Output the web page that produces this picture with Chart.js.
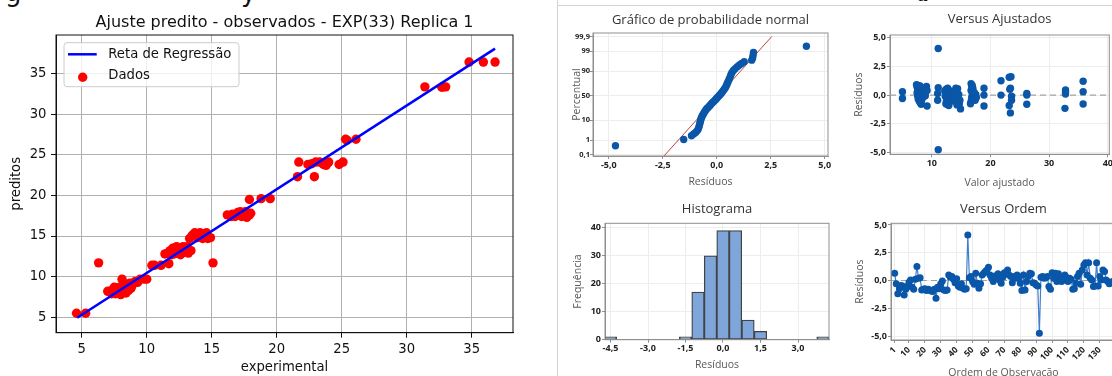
<!DOCTYPE html>
<html>
<head>
<meta charset="utf-8">
<script src="https://cdn.jsdelivr.net/npm/chart.js@4.4.1/dist/chart.umd.min.js"></script>
<style>
  html, body { margin: 0; padding: 0; background: #fff; }
  #page { position: relative; width: 1112px; height: 376px; overflow: hidden; background: #fff; }
  #page canvas { position: absolute; }
  .rule { position: absolute; background: #d4d4d4; }
  .frag { position: absolute; font-family: "DejaVu Sans"; font-size: 26px; line-height: 26px; color: #111; white-space: nowrap; }
</style>
</head>
<body>
<div id="page">
  <!-- restos do texto cortado em cima -->
  <div class="frag" style="left:5px;top:-21px">g</div>
  <div class="frag" style="left:241px;top:-21px">y</div>
  <div class="frag" style="left:760px;top:-22px;font-size:22px">,</div>
  <div class="frag" style="left:917px;top:-19px;font-size:20px;font-family:'DejaVu Serif';font-style:italic">a</div>
  <div class="rule" style="left:557px;top:0;width:1px;height:376px"></div>
  <div class="rule" style="left:557px;top:5px;width:555px;height:1px"></div>
  <canvas id="ajuste" width="556" height="376" style="left:0;top:0"></canvas>
  <canvas id="probNormal" width="290" height="185" style="left:557px;top:5px"></canvas>
  <canvas id="versusAjust" width="300" height="185" style="left:833px;top:5px"></canvas>
  <canvas id="histograma" width="290" height="186" style="left:557px;top:190px"></canvas>
  <canvas id="versusOrdem" width="300" height="196" style="left:833px;top:190px"></canvas>
</div>
<script>
// ---- grafico da esquerda: experimental x preditos ----
const expX = [4.6, 5.3, 6.3,
  7.0, 7.2, 7.3, 7.4, 7.5, 7.6, 7.8, 7.9, 8.0, 8.1, 8.1, 8.2, 8.3, 8.4, 8.5, 8.6, 8.7, 8.8, 8.9, 9.1, 9.3, 9.5, 9.8, 10.0,
  10.4, 10.6, 11.1, 11.7,
  11.4, 11.6, 11.8, 11.9, 12.0, 12.1, 12.2, 12.3, 12.5, 12.6, 12.8, 12.9, 13.0, 13.1, 13.2, 13.4,
  13.3, 13.5, 13.7, 13.8, 13.9, 14.1, 14.3, 14.4, 14.6, 14.7, 14.9,
  15.1,
  16.2, 16.4, 16.5, 16.6, 16.8, 17.0, 17.2, 17.3, 17.4, 17.5, 17.6, 17.7, 17.9, 18.0,
  17.9, 18.8, 19.5,
  21.6, 21.7, 22.4, 22.7, 22.9, 23.0, 23.3, 23.6, 23.8, 23.9, 24.0, 24.8, 25.1,
  25.3, 25.4, 26.1,
  31.4, 32.7, 32.8, 33.0,
  34.8, 35.9, 36.8];
const predY = [5.5, 5.5, 11.7,
  8.2, 8.1, 7.9, 8.4, 8.7, 7.9, 8.3, 8.7, 7.8, 8.2, 9.7, 8.9, 9.1, 8.0, 8.5, 8.3, 9.2, 8.6, 9.0, 9.4, 9.3, 9.7, 9.7, 9.7,
  11.4, 11.4, 11.4, 11.6,
  12.8, 12.9, 13.2, 12.7, 13.5, 12.8, 13.0, 13.7, 13.3, 12.7, 13.7, 13.0, 13.4, 13.7, 12.9, 13.2,
  14.7, 15.1, 15.4, 15.0, 14.8, 15.4, 14.7, 15.3, 15.4, 14.7, 14.8,
  11.7,
  17.6, 17.5, 17.4, 17.7, 17.4, 17.9, 18.0, 17.4, 17.8, 17.6, 18.0, 17.3, 17.6, 17.8,
  19.5, 19.6, 19.6,
  22.3, 24.1, 23.8, 23.9, 22.3, 24.1, 24.1, 23.8, 23.7, 24.0, 24.1, 23.8, 24.1,
  26.9, 26.8, 26.9,
  33.35, 33.3, 33.35, 33.35,
  36.4, 36.4, 36.4];
const regX = [4.65, 36.8];
const regY = [4.95, 38.05];
const fitTicks = [5, 10, 15, 20, 25, 30, 35];

// ---- grafico de probabilidade normal ----
const probRes = [-4.69, -1.53, -1.17, -1.07, -0.98, -0.91, -0.86, -0.83, -0.80, -0.78, -0.76, -0.74, -0.72, -0.69,
  -0.66, -0.62, -0.58, -0.54, -0.50, -0.45, -0.40, -0.35, -0.30, -0.25, -0.19, -0.13, -0.07, -0.02, 0.03, 0.08,
  0.13, 0.18, 0.23, 0.28, 0.33, 0.38, 0.42, 0.46, 0.49, 0.53, 0.57, 0.61, 0.65, 0.70, 0.77, 0.85, 0.95, 1.05,
  1.15, 1.27, 1.62, 1.66, 1.68, 1.70, 4.15];
const probPct = [0.45, 1.1, 1.8, 2.3, 2.7, 3.3, 4.0, 5.0, 6.2, 7.5, 9.0, 10.5, 12, 13.5,
  15, 17, 19, 21, 23, 25, 27, 29, 31, 33.5, 36, 38.5, 41, 43.5, 46, 48.5,
  51, 53.5, 56, 59, 62, 65, 68, 71, 74, 77, 80, 83, 86, 88.5, 90.5, 92, 93.5, 94.5,
  95.3, 96.2, 96.8, 97.5, 98.2, 98.8, 99.5];
const probLineRes = [-2.45, 2.55];
const probLinePct = [0.08, 99.9];
const pctTicks = [0.1, 1, 10, 50, 90, 99, 99.9];
const pctLabels = ['0,1', '1', '10', '50', '90', '99', '99,9'];
const resTicks = [-5, -2.5, 0, 2.5, 5];
const resLabels = ['-5,0', '-2,5', '0,0', '2,5', '5,0'];

// ---- versus ajustados ----
const fitted = [5.0, 5.0,
  7.4, 7.5, 7.5, 7.6, 7.6, 7.7, 7.7, 7.8, 7.8, 7.9, 7.9, 8.0, 8.0, 8.1, 8.1, 8.2, 8.2, 8.3, 8.3, 8.4, 8.5, 8.6, 8.7, 8.8, 9.1, 9.2, 9.2, 8.9,
  11.1, 11.1, 11.0, 11.0, 11.1,
  12.2, 12.3, 12.4, 12.5, 12.6, 12.6, 12.7, 12.8, 12.9, 13.0, 13.0, 13.1, 13.2, 13.3, 12.4, 12.9, 13.4,
  14.1, 14.2, 14.0, 14.2, 14.4, 14.5, 14.6, 14.7, 14.8, 14.9, 14.3,
  16.7, 16.8, 16.7, 16.9, 16.8, 16.7, 16.6, 17.0, 17.2, 17.3, 17.4, 17.5, 17.2, 17.6, 16.9,
  18.9, 18.9, 18.9,
  21.8, 21.8,
  23.2, 23.5, 23.3, 23.4, 23.6, 23.6, 23.2, 23.4,
  26.2, 26.2, 26.2,
  32.8, 32.8, 32.8, 32.7,
  35.8, 35.8, 35.8];
const fittedRes = [0.3, -0.3,
  0.9, 0.7, 0.2, 0.45, -0.1, 0.85, -0.35, 0.6, 0.1, -0.55, 0.35, 0.8, -0.2, 0.5, -0.7, 0.2, -0.8, 0.65, -0.4, 0.05, 0.35, -0.15, 0.5, 0.15, 0.75, 0.4, -0.95, -0.05,
  4.05, 0.65, 0.15, -0.45, -4.75,
  0.35, -0.1, 0.5, -0.5, 0.2, -0.8, 0.6, -0.3, 0.05, -0.65, 0.4, -0.2, 0.2, -0.5, -0.75, -0.9, 0.0,
  0.6, 0.3, -0.3, -0.65, 0.55, -0.5, 0.05, -0.75, -0.45, -1.2, -0.85,
  1.0, 0.75, 0.4, 0.1, -0.2, -0.55, -0.75, 0.6, 0.25, -0.1, -0.45, 0.05, -0.3, -0.2, 0.85,
  0.6, 0.0, -0.95,
  1.25, 0.0,
  1.55, 1.6, 0.5, 0.6, -0.1, -0.45, -0.9, -1.55,
  0.15, 0.0, -0.8,
  0.45, 0.3, 0.1, -1.15,
  1.2, 0.3, -0.78];
const fittedTicks = [10, 20, 30, 40];

// ---- histograma ----
const binMid = [-4.5, -1.5, -1.0, -0.5, 0.0, 0.5, 1.0, 1.5, 4.0];
const binCount = [1, 1, 17, 30, 39, 39, 7, 3, 1];
const histXTicks = [-4.5, -3, -1.5, 0, 1.5, 3];
const histXLabels = ['-4,5', '-3,0', '-1,5', '0,0', '1,5', '3,0'];
const histYTicks = [0, 10, 20, 30, 40];

// ---- versus ordem (observacao 1..n) ----
const orderRes = [0.65, -0.3, -1.2, -0.75, -0.45, -0.5, -1.3, -0.8, -0.55, -0.15,
  0.05, -0.6, -0.8, 0.1, 1.25, 0.2, 0.25, -0.85, -0.8, -0.75,
  -0.9, -0.8, -0.85, -0.95, -1.0, -0.8, -1.6, -0.6, -0.75, -0.3,
  -0.05, -0.85, -0.9, -0.85, 0.5, 0.3, 0.35, 0.1, -0.2, 0.15,
  -0.5, -0.6, -0.3, -0.7, -0.8, -0.75, 4.1,
  0.25, 0.35, -0.1, -0.35, 0.65, -0.25, -0.7, -0.3, 0.5, 0.65,
  0.8, 0.95, 1.2, 0.5, 0.2, -0.1, 0.4, 0.2, 0.6, 0.05,
  -0.25, 0.3, 0.7, 0.65, 0.95, 0.5, 0.35, -0.2, 0.35, 0.2,
  0.5, 0.2, -0.25, -0.9, 0.5, -0.85, -0.1, 0.35, 0.65, 0.6,
  -0.2, -0.25, -0.4, -0.5, -4.75,
  0.3, 0.35, 0.2, 0.25, 0.35, -0.55, -0.8, 0.7, 0.2, 0.65,
  -0.1, 0.6, 0.3, -0.1, 0.05, 0.5, 0.3, -0.1, 0.2, 0.1,
  -0.8, -0.75, -0.25, 0.35, 0.65, -0.35, 0.95, 1.4, 1.6, 0.5,
  1.6, 0.2, 0.05, -0.55, -0.5, 1.6, -0.5, 0.35, 0.05, 0.95,
  0.8, 0.05, -0.1, -0.3, -0.2, -0.1];
const orderTicks = [1, 10, 20, 30, 40, 50, 60, 70, 80, 90, 100, 110, 120, 130];

// normal inversa (Acklam) - so para a escala de probabilidade
function zOf(p) {
  const a = [-39.69683028665376, 220.9460984245205, -275.9285104469687, 138.3577518672690, -30.66479806614716, 2.506628277459239];
  const b = [-54.47609879822406, 161.5858368580409, -155.6989798598866, 66.80131188771972, -13.28068155288572];
  const c = [-0.007784894002430293, -0.3223964580411365, -2.400758277161838, -2.549732539343734, 4.374664141464968, 2.938163982698783];
  const d = [0.007784695709041462, 0.3224671290700398, 2.445134137142996, 3.754408661907416];
  const tail = q => (((((c[0]*q+c[1])*q+c[2])*q+c[3])*q+c[4])*q+c[5]) / ((((d[0]*q+d[1])*q+d[2])*q+d[3])*q+1);
  if (p < 0.02425) return tail(Math.sqrt(-2 * Math.log(p)));
  if (p > 1 - 0.02425) return -tail(Math.sqrt(-2 * Math.log(1 - p)));
  const q = p - 0.5, r = q * q;
  return (((((a[0]*r+a[1])*r+a[2])*r+a[3])*r+a[4])*r+a[5])*q / (((((b[0]*r+b[1])*r+b[2])*r+b[3])*r+b[4])*r+1);
}

Chart.defaults.animation = false;
Chart.defaults.events = [];
Chart.defaults.plugins.legend.display = false;
Chart.defaults.plugins.tooltip.enabled = false;

// caixa em volta da area do grafico
const moldura = {
  id: 'moldura',
  afterDatasetsDraw(chart, args, o) {
    if (!o.color) return;
    const a = chart.chartArea, c = chart.ctx;
    c.save();
    c.strokeStyle = o.color;
    c.lineWidth = o.width || 1;
    c.strokeRect(a.left, a.top, a.right - a.left, a.bottom - a.top);
    c.restore();
  }
};

// linha tracejada no zero (residuos)
const linhaZero = {
  id: 'linhaZero',
  beforeDatasetsDraw(chart, args, o) {
    if (!o.show) return;
    const a = chart.chartArea, c = chart.ctx;
    const y = chart.scales.y.getPixelForValue(0);
    c.save();
    c.strokeStyle = '#a3a3a3';
    c.lineWidth = 1.2;
    c.setLineDash([6, 4]);
    c.beginPath();
    c.moveTo(a.left, y);
    c.lineTo(a.right, y);
    c.stroke();
    c.restore();
  }
};

// legenda estilo matplotlib, dentro do grafico
const legendaMpl = {
  id: 'legendaMpl',
  afterDraw(chart, args, o) {
    if (!o.show) return;
    const c = chart.ctx, a = chart.chartArea, ds = chart.data.datasets;
    const x0 = a.left + 8, y0 = a.top + 7.7, w = 175, h = 44, r = 3;
    c.save();
    c.beginPath();
    c.moveTo(x0 + r, y0);
    c.arcTo(x0 + w, y0, x0 + w, y0 + h, r);
    c.arcTo(x0 + w, y0 + h, x0, y0 + h, r);
    c.arcTo(x0, y0 + h, x0, y0, r);
    c.arcTo(x0, y0, x0 + w, y0, r);
    c.closePath();
    c.fillStyle = 'rgba(255,255,255,0.8)';
    c.fill();
    c.strokeStyle = '#cccccc';
    c.lineWidth = 1;
    c.stroke();
    c.strokeStyle = ds[0].borderColor;
    c.lineWidth = ds[0].borderWidth;
    c.beginPath();
    c.moveTo(x0 + 4, y0 + 11.6);
    c.lineTo(x0 + 32.7, y0 + 11.6);
    c.stroke();
    c.fillStyle = ds[1].backgroundColor;
    c.beginPath();
    c.arc(x0 + 18.7, y0 + 34.5, ds[1].pointRadius, 0, Math.PI * 2);
    c.fill();
    c.fillStyle = '#111';
    c.font = '13.2px "DejaVu Sans"';
    c.textBaseline = 'middle';
    c.fillText(ds[0].label, x0 + 44.3, y0 + 11.6);
    c.fillText(ds[1].label, x0 + 44.3, y0 + 32.8);
    c.restore();
  }
};
Chart.register(moldura, linhaZero, legendaMpl);

const mpl = 'DejaVu Sans';
new Chart(document.getElementById('ajuste'), {
  type: 'scatter',
  data: {
    datasets: [
      { label: 'Reta de Regressão', data: regX.map((x, i) => ({ x, y: regY[i] })), showLine: true,
        borderColor: '#0000ff', backgroundColor: '#0000ff', borderWidth: 2.5, pointRadius: 0 },
      { label: 'Dados', data: expX.map((x, i) => ({ x, y: predY[i] })),
        backgroundColor: '#ff0000', borderColor: '#ff0000', borderWidth: 0, pointRadius: 4.7 }
    ]
  },
  options: {
    responsive: false,
    layout: { padding: { left: 0, right: 43, top: 0, bottom: 0 } },
    scales: {
      x: {
        type: 'linear', min: 3.02, max: 38.18,
        afterBuildTicks: s => { s.ticks = fitTicks.map(v => ({ value: v })); },
        afterFit: s => { s.height = 43.3; },
        ticks: { autoSkip: false, maxRotation: 0, padding: 4, color: '#111', font: { family: mpl, size: 13.2 } },
        grid: { color: '#b0b0b0', lineWidth: 1, tickColor: '#111', tickLength: 5 },
        border: { color: '#111', width: 1 },
        title: { display: true, text: 'experimental', color: '#111', font: { family: mpl, size: 13.2 }, padding: { top: 0, bottom: 0.5 } }
      },
      y: {
        type: 'linear', min: 3.11, max: 39.73,
        afterBuildTicks: s => { s.ticks = fitTicks.map(v => ({ value: v })); },
        afterFit: s => { s.width = 56; },
        ticks: { autoSkip: false, padding: 4.5, color: '#111', font: { family: mpl, size: 13.2 } },
        grid: { color: '#b0b0b0', lineWidth: 1, tickColor: '#111', tickLength: 5 },
        border: { color: '#111', width: 1 },
        title: { display: true, text: 'preditos', color: '#111', font: { family: mpl, size: 13.2 }, padding: { top: 9, bottom: 0 } }
      }
    },
    plugins: {
      title: { display: true, text: 'Ajuste predito - observados - EXP(33) Replica 1', fullSize: false, color: '#111',
        font: { family: mpl, size: 16, weight: 'normal' }, padding: { top: 13.6, bottom: 2.2 } },
      legendaMpl: { show: true },
      moldura: { color: '#111', width: 1 }
    }
  }
});

// ---- estilo Minitab ----
const mt = 'Open Sans';
const azul = '#0a56a8';
function mtScale(o) {
  return {
    type: 'linear', min: o.min, max: o.max, offset: false,
    afterBuildTicks: s => { s.ticks = o.ticks.map(v => ({ value: v })); },
    afterFit: s => { if (s.isHorizontal()) s.height = o.size; else s.width = o.size; },
    ticks: {
      autoSkip: false, maxRotation: o.rot || 0, minRotation: o.rot || 0, padding: o.pad,
      color: '#222', font: { family: mt, size: o.fs || 9, weight: 'bold' },
      callback: (v, i) => (o.labels ? o.labels[i] : String(v))
    },
    grid: { color: '#ededed', lineWidth: 1, tickColor: '#8f8f8f', tickLength: 3, offset: false },
    border: { color: '#8f8f8f', width: 1 },
    title: { display: true, text: o.title, color: '#595959', font: { family: mt, size: 10.5 }, padding: o.titlePad }
  };
}
function mtTitle(text, top, bottom) {
  return { display: true, text, fullSize: false, color: '#333', font: { family: mt, size: 13, weight: 'normal' }, padding: { top, bottom } };
}

new Chart(document.getElementById('probNormal'), {
  type: 'scatter',
  data: {
    datasets: [
      { data: probRes.map((x, i) => ({ x, y: zOf(probPct[i] / 100) })), backgroundColor: azul, borderWidth: 0, pointRadius: 3.7 },
      { data: probLineRes.map((x, i) => ({ x, y: zOf(probLinePct[i] / 100) })), showLine: true,
        borderColor: '#b5483e', borderWidth: 1, pointRadius: 0 }
    ]
  },
  options: {
    responsive: false,
    layout: { padding: { left: 0, right: 19, top: 0, bottom: 0 } },
    scales: {
      x: mtScale({ min: -5.73, max: 5.15, ticks: resTicks, labels: resLabels, size: 34, pad: 1, title: 'Resíduos', titlePad: { top: 0, bottom: 2 } }),
      y: mtScale({ min: -3.15, max: 3.27, ticks: pctTicks.map(p => zOf(p / 100)), labels: pctLabels, size: 36, pad: 0, fs: 7.5, title: 'Percentual', titlePad: { top: 13.4, bottom: 0 } })
    },
    plugins: { title: mtTitle('Gráfico de probabilidade normal', 7.2, 5.2), moldura: { color: '#8f8f8f', width: 1 } }
  }
});

new Chart(document.getElementById('versusAjust'), {
  type: 'scatter',
  data: {
    datasets: [
      { data: fitted.map((x, i) => ({ x, y: fittedRes[i] })), backgroundColor: azul, borderWidth: 0, pointRadius: 3.7 }
    ]
  },
  options: {
    responsive: false,
    layout: { padding: { left: 0, right: 23.7, top: 0, bottom: 0 } },
    scales: {
      x: mtScale({ min: 2.88, max: 40.26, ticks: fittedTicks, size: 35.7, pad: 0.3, title: 'Valor ajustado', titlePad: { top: 0, bottom: 1 } }),
      y: mtScale({ min: -5.15, max: 5.23, ticks: resTicks, labels: resLabels, size: 57, pad: 1, title: 'Resíduos', titlePad: { top: 20, bottom: 0 } })
    },
    plugins: { title: mtTitle('Versus Ajustados', 6.5, 7.9), linhaZero: { show: true }, moldura: { color: '#8f8f8f', width: 1 } }
  }
});

new Chart(document.getElementById('histograma'), {
  type: 'bar',
  data: {
    datasets: [
      { data: binMid.map((x, i) => ({ x, y: binCount[i] })), backgroundColor: '#7ea6da', borderColor: '#424242',
        borderWidth: 1.3, borderSkipped: false, barPercentage: 1, categoryPercentage: 1 }
    ]
  },
  options: {
    responsive: false,
    layout: { padding: { left: 0, right: 18, top: 0, bottom: 0 } },
    scales: {
      x: mtScale({ min: -4.72, max: 4.24, ticks: histXTicks, labels: histXLabels, size: 36.3, pad: 0, title: 'Resíduos', titlePad: { top: 0, bottom: 4.7 } }),
      y: mtScale({ min: 0, max: 41.6, ticks: histYTicks, size: 48, pad: 1, title: 'Frequência', titlePad: { top: 15, bottom: 0 } })
    },
    plugins: { title: mtTitle('Histograma', 11.5, 6.2), moldura: { color: '#8f8f8f', width: 1 } }
  }
});

new Chart(document.getElementById('versusOrdem'), {
  type: 'scatter',
  data: {
    datasets: [
      { data: orderRes.map((y, i) => ({ x: i + 1, y })), showLine: true, borderColor: '#3f7fcb', borderWidth: 1.2,
        backgroundColor: azul, pointBorderWidth: 0, pointRadius: 3.5 }
    ]
  },
  options: {
    responsive: false,
    layout: { padding: { left: 0, right: 17, top: 0, bottom: 0 } },
    scales: {
      x: mtScale({ min: -1.3, max: 140.2, ticks: orderTicks, size: 46, pad: 2, rot: 45, fs: 8.5, title: 'Ordem de Observação', titlePad: { top: 0, bottom: 7 } }),
      y: mtScale({ min: -5.36, max: 5.15, ticks: resTicks, labels: resLabels, size: 58, pad: 1, title: 'Resíduos', titlePad: { top: 20.7, bottom: 0 } })
    },
    plugins: { title: mtTitle('Versus Ordem', 11.2, 6.5), linhaZero: { show: true }, moldura: { color: '#8f8f8f', width: 1 } }
  }
});
</script>
</body>
</html>
